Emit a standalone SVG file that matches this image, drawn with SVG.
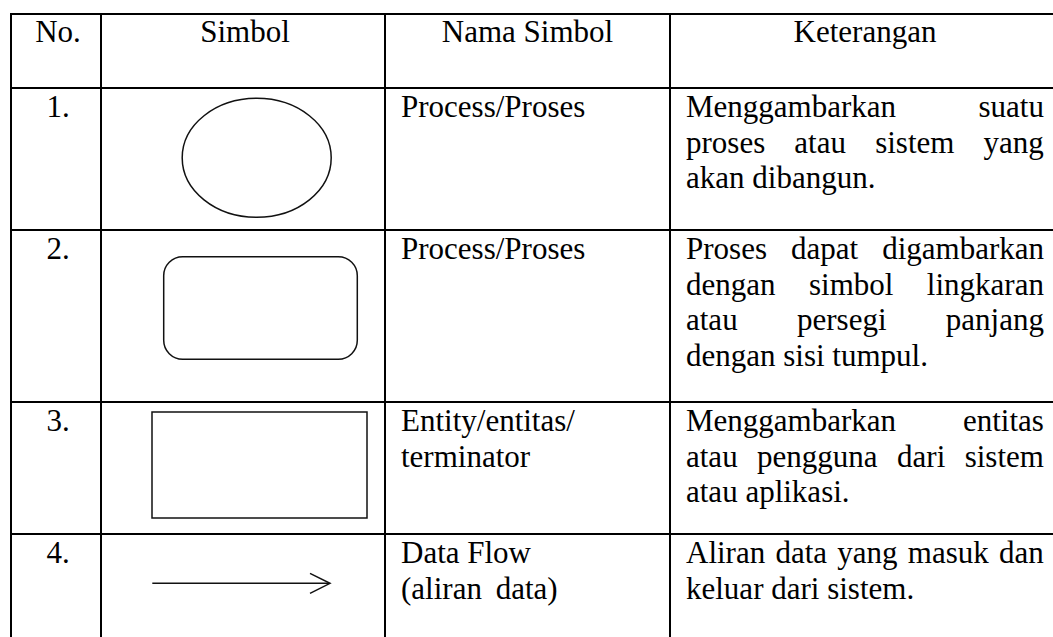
<svg xmlns="http://www.w3.org/2000/svg" width="1053" height="637" viewBox="0 0 1053 637">
  <style>
    .grid { stroke: #000; stroke-width: 2; fill: none; }
    .sym { stroke: #111; stroke-width: 1.5; fill: none; }
    .t { font-family: "Liberation Serif", "Times New Roman", serif; font-size: 31px; fill: #000; }
    .c { text-anchor: middle; }
  </style>
  <rect x="0" y="0" width="1053" height="637" fill="#fff"/>

  <g id="table-grid" class="grid">
    <line x1="11" y1="14" x2="1053" y2="14"/>
    <line x1="11" y1="88" x2="1053" y2="88"/>
    <line x1="11" y1="230" x2="1053" y2="230"/>
    <line x1="11" y1="402" x2="1053" y2="402"/>
    <line x1="11" y1="534" x2="1053" y2="534"/>
    <line x1="11" y1="13" x2="11" y2="637"/>
    <line x1="101" y1="13" x2="101" y2="637"/>
    <line x1="385" y1="13" x2="385" y2="637"/>
    <line x1="670" y1="13" x2="670" y2="637"/>
  </g>

  <g id="header">
    <text class="t c" x="58" y="41.5">No.</text>
    <text class="t c" x="245" y="41.5">Simbol</text>
    <text class="t c" x="527.5" y="41.5">Nama Simbol</text>
    <text class="t c" x="865" y="41.5">Keterangan</text>
  </g>

  <g id="row1">
    <text class="t c" x="58" y="117">1.</text>
    <ellipse id="sym-process-circle" class="sym" cx="256.7" cy="157.8" rx="74.5" ry="59.5"/>
    <text class="t" x="401" y="117">Process/Proses</text>
    <text class="t" x="686" y="117" style="word-spacing:74.7px">Menggambarkan suatu</text>
    <text class="t" x="686" y="152.5" style="word-spacing:21.4px">proses atau sistem yang</text>
    <text class="t" x="686" y="188">akan dibangun.</text>
  </g>

  <g id="row2">
    <text class="t c" x="58" y="259">2.</text>
    <rect id="sym-process-rounded" class="sym" x="163.7" y="256.7" width="193.6" height="102.6" rx="19" ry="19"/>
    <text class="t" x="401" y="259">Process/Proses</text>
    <text class="t" x="686" y="259" style="word-spacing:16.3px">Proses dapat digambarkan</text>
    <text class="t" x="686" y="294.5" style="word-spacing:25.7px">dengan simbol lingkaran</text>
    <text class="t" x="686" y="330" style="word-spacing:51.6px">atau persegi panjang</text>
    <text class="t" x="686" y="365.5">dengan sisi tumpul.</text>
  </g>

  <g id="row3">
    <text class="t c" x="58" y="431">3.</text>
    <rect id="sym-entity" class="sym" x="152" y="412" width="215" height="106"/>
    <text class="t" x="401" y="431">Entity/entitas/</text>
    <text class="t" x="401" y="466.5">terminator</text>
    <text class="t" x="686" y="431" style="word-spacing:59.2px">Menggambarkan entitas</text>
    <text class="t" x="686" y="466.5" style="word-spacing:11.7px">atau pengguna dari sistem</text>
    <text class="t" x="686" y="502">atau aplikasi.</text>
  </g>

  <g id="row4">
    <text class="t c" x="58" y="563">4.</text>
    <g id="connectors">
      <line class="sym" x1="152.3" y1="583.3" x2="329" y2="583.3"/>
      <polyline class="sym" points="310,573.3 330,583.3 310,593.3"/>
    </g>
    <text class="t" x="401" y="563">Data Flow</text>
    <text class="t" x="401" y="598.5" style="word-spacing:6px">(aliran data)</text>
    <text class="t" x="686" y="563" style="word-spacing:2.5px">Aliran data yang masuk dan</text>
    <text class="t" x="686" y="598.5">keluar dari sistem.</text>
  </g>
</svg>
